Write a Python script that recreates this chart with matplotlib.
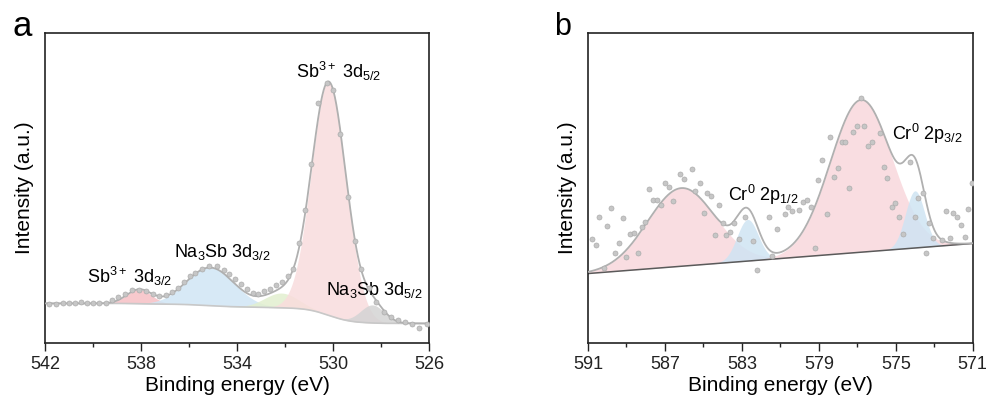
import numpy as np
import matplotlib
matplotlib.use('Agg')
import matplotlib.pyplot as plt
from matplotlib.ticker import FixedLocator, NullLocator

plt.rcParams['font.family'] = ['Liberation Sans', 'DejaVu Sans']
plt.rcParams['mathtext.fontset'] = 'custom'
plt.rcParams['mathtext.rm'] = 'Liberation Sans'
plt.rcParams['mathtext.it'] = 'Liberation Sans:italic'
plt.rcParams['mathtext.bf'] = 'Liberation Sans:bold'
plt.rcParams['mathtext.default'] = 'regular'

# ---------------- Panel a : Sb 3d ----------------
a_energy = [541.82, 541.54, 541.26, 540.99, 540.75, 540.52, 540.27, 540.02, 539.74, 539.46,
            539.22, 538.95, 538.67, 538.39, 538.07, 537.80, 537.52, 537.24, 536.96, 536.69,
            536.45, 536.21, 535.96, 535.76, 535.45, 535.16, 534.85, 534.55, 534.33, 534.09,
            533.85, 533.60, 533.35, 533.12, 532.88, 532.63, 532.38, 532.12, 531.87, 531.66,
            531.43, 531.18, 530.90, 530.62, 530.27, 530.00, 529.69, 529.37, 529.09, 528.82,
            528.50, 528.19, 527.89, 527.57, 527.29, 527.01, 526.71, 526.42, 526.08]
a_intensity = [38.7, 39.3, 40.0, 40.0, 40.3, 41.0, 40.3, 40.3, 40.3, 40.3,
               42.7, 46.0, 49.3, 52.7, 53.3, 51.7, 49.3, 47.0, 47.7, 51.0,
               55.3, 61.0, 66.7, 70.0, 74.3, 77.3, 76.7, 73.3, 68.7, 63.7,
               58.7, 54.0, 50.0, 49.3, 51.7, 54.3, 57.7, 61.0, 66.7, 74.3,
               99.3, 132.7, 178.7, 239.3, 259.3, 252.0, 208.7, 146.0, 102.0, 74.3,
               55.3, 41.0, 31.0, 26.0, 22.7, 21.0, 18.7, 15.3, 19.3]
a_centers = [538.07, 535.10, 532.15, 530.17, 528.36]
a_heights = [14.0, 38.0, 14.7, 233.0, 18.0]
a_sigmas = [0.52, 1.0, 0.7, 0.72, 0.5]
a_bg_high = 39.5   # background level on the high binding-energy side
a_bg_low = 19.5    # background level on the low binding-energy side
a_ticks = [542, 538, 534, 530, 526]
a_minor = [540, 536, 532, 528]
a_labels = [r'Sb$^{3+}$ 3d$_{3/2}$', r'Na$_{3}$Sb 3d$_{3/2}$', r'Sb$^{3+}$ 3d$_{5/2}$', r'Na$_{3}$Sb 3d$_{5/2}$']

# ---------------- Panel b : Cr 2p ----------------
b_energy = [590.79, 590.58, 590.41, 590.19, 590.01, 589.79, 589.61, 589.41, 589.20, 589.01,
            588.80, 588.61, 588.40, 588.19, 588.02, 587.81, 587.61, 587.42, 587.21, 587.02,
            586.81, 586.60, 586.22, 586.00, 585.60, 585.42, 585.20, 584.99, 584.82, 584.61,
            584.39, 584.21, 583.99, 583.81, 583.64, 583.43, 583.17, 582.83, 582.43, 582.19,
            581.61, 581.44, 581.18, 580.78, 580.58, 580.40, 580.02, 579.80, 579.62, 579.40,
            579.19, 579.02, 578.81, 578.58, 578.41, 578.19, 578.01, 577.81, 577.63, 577.42,
            577.20, 577.03, 576.80, 576.63, 576.42, 576.25, 575.81, 575.61, 575.47, 575.21,
            575.03, 574.83, 574.64, 574.26, 573.99, 573.82, 573.60, 573.42, 573.25, 573.04,
            572.61, 572.39, 572.18, 572.00, 571.80, 571.62, 571.40, 571.22, 571.05]
b_intensity = [103.3, 97.7, 126.0, 75.3, 116.7, 134.3, 90.0, 100.0, 125.0, 86.0,
               108.7, 109.7, 90.0, 116.0, 120.3, 153.3, 142.7, 142.7, 137.7, 160.0,
               156.0, 141.7, 168.3, 163.7, 173.3, 152.0, 159.3, 129.3, 149.3, 146.7,
               107.7, 137.7, 120.0, 107.7, 111.0, 119.3, 103.3, 126.0, 101.7, 73.3,
               126.0, 86.7, 113.3, 128.3, 135.3, 131.7, 132.7, 141.0, 142.7, 136.0,
               95.0, 162.7, 182.7, 128.3, 205.3, 166.0, 174.3, 200.3, 200.3, 155.0,
               211.0, 216.7, 244.3, 217.0, 196.7, 200.3, 209.3, 176.0, 164.3, 136.0,
               139.3, 126.0, 108.7, 181.0, 126.0, 144.3, 150.0, 90.0, 120.0, 104.3,
               102.7, 131.7, 104.3, 129.3, 125.3, 117.7, 106.0, 133.3, 159.3]
b_centers = [586.15, 582.70, 576.80, 574.00]
b_heights = [78.0, 41.5, 152.0, 57.0]
b_sigmas = [1.75, 0.55, 1.6, 0.5]
b_base_high = 69.3  # linear baseline at 591 eV
b_base_low = 99.3   # linear baseline at 571 eV
b_ticks = [591, 587, 583, 579, 575, 571]
b_minor = [589, 585, 581, 577, 573]
b_labels = [r'Cr$^{0}$ 2p$_{1/2}$', r'Cr$^{0}$ 2p$_{3/2}$']

# ---------------- styles ----------------
a_colors = ['#f7c3c8', '#d0e6f5', '#e2efcf', '#f9dcdd', '#d4d4d4']
a_alphas = [0.9, 0.85, 0.85, 0.85, 0.85]
b_colors = ['#f9d8dc', '#cfe4f3', '#f9d8dc', '#cfe4f3']
fit_color = '#b0b0b0'
dot_face = '#c6c6c6'
dot_edge = '#acacac'


def gauss(x, c, h, s):
    return h * np.exp(-0.5 * ((x - c) / s) ** 2)


fig = plt.figure(figsize=(9.92, 4.05), dpi=100)
axa = fig.add_axes([45 / 992, 62 / 405, 384 / 992, 310 / 405])
axb = fig.add_axes([588 / 992, 62 / 405, 384.7 / 992, 310 / 405])

# ---- panel a ----
xa = np.linspace(526, 542, 1601)
comps_a = [gauss(xa, c, h, s) for c, h, s in zip(a_centers, a_heights, a_sigmas)]
tot_a = np.sum(comps_a, axis=0)
frac = np.cumsum(tot_a) / np.sum(tot_a)
bg_a = a_bg_low + (a_bg_high - a_bg_low) * frac

for i in range(len(comps_a)):
    axa.fill_between(xa, bg_a, bg_a + comps_a[i], color=a_colors[i], alpha=a_alphas[i], lw=0, zorder=1)
axa.plot(xa, bg_a, color='#c8c8c8', lw=1.2, zorder=2)
axa.plot(xa, bg_a + tot_a, color=fit_color, lw=1.3, zorder=3)
axa.plot(a_energy, a_intensity, 'o', ms=3.6, mfc=dot_face, mec=dot_edge, mew=0.5, zorder=4)

axa.set_xlim(542, 526)
axa.set_ylim(0, 309.3)
axa.xaxis.set_major_locator(FixedLocator(a_ticks))
axa.xaxis.set_minor_locator(FixedLocator(a_minor))

label_pos_a = [(0.220, 0.216), (0.461, 0.294), (0.766, 0.877), (0.858, 0.171)]
for txt, (px, py) in zip(a_labels, label_pos_a):
    axa.text(px, py, txt, transform=axa.transAxes, ha='center', va='center', fontsize=13)

# ---- panel b ----
xb = np.linspace(571, 591, 1601)
base_b = np.interp(xb, [571, 591], [b_base_low, b_base_high])
comps_b = [gauss(xb, c, h, s) for c, h, s in zip(b_centers, b_heights, b_sigmas)]
tot_b = np.sum(comps_b, axis=0)
for i in range(len(comps_b)):
    axb.fill_between(xb, base_b, base_b + comps_b[i], color=b_colors[i], alpha=0.85, lw=0, zorder=1)
axb.plot([591, 571], [b_base_high, b_base_low], color='#5a5a5a', lw=1.1, zorder=2)
axb.plot(xb, base_b + tot_b, color=fit_color, lw=1.3, zorder=3)
axb.plot(b_energy, b_intensity, 'o', ms=3.6, mfc=dot_face, mec=dot_edge, mew=0.5, zorder=4)

axb.set_xlim(591, 571)
axb.set_ylim(0, 309.3)
axb.xaxis.set_major_locator(FixedLocator(b_ticks))
axb.xaxis.set_minor_locator(FixedLocator(b_minor))

label_pos_b = [(0.455, 0.477), (0.881, 0.674)]
for txt, (px, py) in zip(b_labels, label_pos_b):
    axb.text(px, py, txt, transform=axb.transAxes, ha='center', va='center', fontsize=13)

for ax in (axa, axb):
    ax.yaxis.set_major_locator(NullLocator())
    ax.yaxis.set_minor_locator(NullLocator())
    ax.tick_params(axis='x', which='major', direction='out', length=5.5, width=1.0,
                   labelsize=13, pad=4, colors='#222222')
    ax.tick_params(axis='x', which='minor', direction='out', length=3, width=1.0, colors='#222222')
    for sp in ax.spines.values():
        sp.set_color('#222222')
        sp.set_linewidth(1.2)
    ax.set_xlabel('Binding energy (eV)', fontsize=15, labelpad=2)
    ax.set_ylabel('Intensity (a.u.)', fontsize=15, labelpad=8)

fig.text(22.5 / 992, 1 - 35.5 / 405, 'a', fontsize=25, ha='center', va='baseline')
fig.text(562.5 / 992, 1 - 35 / 405, 'b', fontsize=22, ha='center', va='baseline')

fig.savefig('out.png', dpi=100)
